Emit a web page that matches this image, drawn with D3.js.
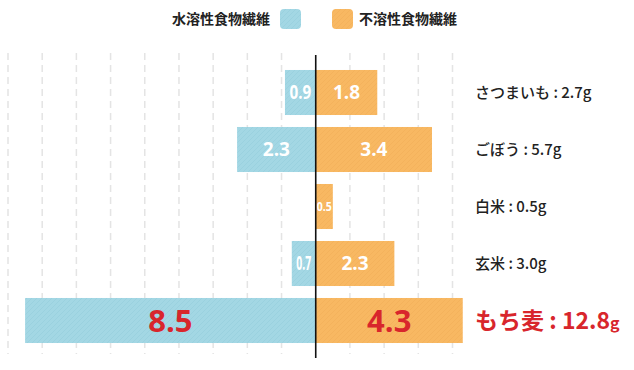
<!doctype html>
<html lang="ja">
<head>
<meta charset="utf-8">
<script src="https://d3js.org/d3.v7.min.js"></script>
<style>
  body { margin: 0; background: #fff; }
  svg { display: block; font-family: "Noto Sans CJK JP", "Noto Sans", sans-serif; }
  .grid line { stroke: #e4e4e4; stroke-width: 1.5; stroke-dasharray: 7 5; }
</style>
</head>
<body>
<svg width="634" height="370"></svg>
<script>
// food names, soluble / insoluble fibre (g), totals shown on the right
var foods = ["さつまいも", "ごぼう", "白米", "玄米", "もち麦"];
var soluble = [0.9, 2.3, 0, 0.7, 8.5];
var insoluble = [1.8, 3.4, 0.5, 2.3, 4.3];
var totals = ["2.7", "5.7", "0.5", "3.0", "12.8"];
var seriesNames = ["水溶性食物繊維", "不溶性食物繊維"];
var gridTicks = [-9, -8, -7, -6, -5, -4, -3, -2, -1, 1, 2, 3, 4];

var blue = "#a3d7e4", orange = "#f8b862", red = "#d8262c";

var svg = d3.select("svg");

// paper-ish texture for the bars
var defs = svg.append("defs");
[["texBlue", blue, "#7fbfd1"], ["texOrange", orange, "#e9a048"]].forEach(function(p) {
    var pat = defs.append("pattern")
        .attr("id", p[0])
        .attr("patternUnits", "userSpaceOnUse")
        .attr("width", 5).attr("height", 5);
    pat.append("rect").attr("width", 5).attr("height", 5).attr("fill", p[1]);
    pat.append("path")
        .attr("d", "M0,5 L5,0 M-1,1 L1,-1 M4,6 L6,4")
        .attr("stroke", p[2]).attr("stroke-width", 0.8).attr("opacity", 0.3);
});

var x = d3.scaleLinear().domain([-9, 4]).range([8, 452.5]);
var y = d3.scaleBand().domain(foods).range([64, 349]).paddingInner(0.21).paddingOuter(0.105);

// dashed grid
svg.append("g").attr("class", "grid")
    .selectAll("line").data(gridTicks).enter().append("line")
    .attr("x1", function(d) { return x(d); })
    .attr("x2", function(d) { return x(d); })
    .attr("y1", 53).attr("y2", 354);

// bars
var rows = svg.append("g").selectAll("g").data(foods).enter().append("g");

rows.append("rect")
    .attr("x", function(d, i) { return x(-soluble[i]); })
    .attr("y", function(d) { return y(d); })
    .attr("width", function(d, i) { return x(0) - x(-soluble[i]); })
    .attr("height", y.bandwidth())
    .attr("fill", "url(#texBlue)");

rows.append("rect")
    .attr("x", x(0))
    .attr("y", function(d) { return y(d); })
    .attr("width", function(d, i) { return x(insoluble[i]) - x(0); })
    .attr("height", y.bandwidth())
    .attr("fill", "url(#texOrange)");

// value labels inside bars
function barLabel(sel, vals, side) {
    sel.each(function(d, i) {
        var v = vals[i];
        if (!v) return;
        var last = i === foods.length - 1;
        var w = Math.abs(x(side * v) - x(0));
        var size = last ? 31 : (w < 20 ? 13 : 19);
        var t = d3.select(this).append("text")
            .attr("x", (x(side * v) + x(0)) / 2)
            .attr("y", y(d) + y.bandwidth() / 2)
            .attr("dy", "0.36em")
            .attr("text-anchor", "middle")
            .attr("fill", last ? red : "#fff")
            .style("font-family", "'Open Sans', sans-serif")
            .style("font-weight", 700)
            .style("font-size", size + "px")
            .text(v.toFixed(1));
        var tw = t.node().getComputedTextLength();
        if (tw > w - 8) {
            t.attr("textLength", w < 20 ? w - 2 : w - 9).attr("lengthAdjust", "spacingAndGlyphs");
        }
    });
}
barLabel(rows, soluble, -1);
barLabel(rows, insoluble, 1);

// centre axis line
svg.append("line")
    .attr("x1", x(0)).attr("x2", x(0))
    .attr("y1", 55).attr("y2", 358)
    .attr("stroke", "#111").attr("stroke-width", 1.6);

// totals on the right
rows.each(function(d, i) {
    var last = i === foods.length - 1;
    var t = d3.select(this).append("text")
        .attr("x", 475)
        .attr("y", y(d) + y.bandwidth() / 2)
        .attr("dy", "0.36em")
        .attr("fill", last ? red : "#222")
        .style("font-size", last ? "23px" : "15px")
        .style("font-weight", last ? 700 : 500);
    t.append("tspan").text(d + " : " + totals[i]);
    t.append("tspan").style("font-size", last ? "16px" : null).text("g");
});

// legend
var legend = svg.append("g");
legend.append("text").attr("x", 172).attr("y", 19).attr("dy", "0.36em")
    .attr("fill", "#222").style("font-size", "14px").style("font-weight", 700)
    .text(seriesNames[0]);
legend.append("rect").attr("x", 280).attr("y", 9).attr("width", 21).attr("height", 20)
    .attr("rx", 4).attr("fill", "url(#texBlue)");
legend.append("rect").attr("x", 332).attr("y", 9).attr("width", 21).attr("height", 20)
    .attr("rx", 4).attr("fill", "url(#texOrange)");
legend.append("text").attr("x", 359).attr("y", 19).attr("dy", "0.36em")
    .attr("fill", "#222").style("font-size", "14px").style("font-weight", 700)
    .text(seriesNames[1]);
</script>
</body>
</html>
